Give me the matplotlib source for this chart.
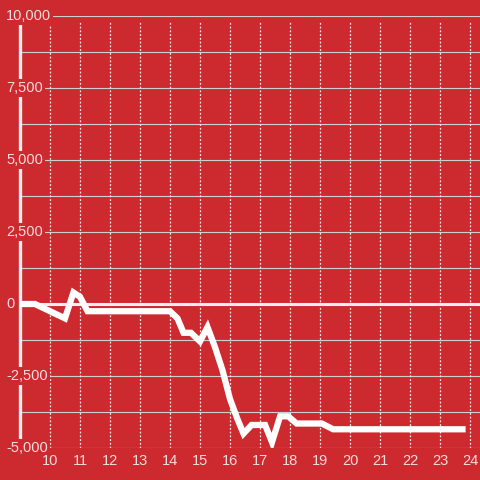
import matplotlib
matplotlib.use('Agg')
import matplotlib.pyplot as plt
import matplotlib.transforms as mtransforms

# hour of day vs value
hours = [9.0, 9.5, 10.5, 10.78, 11.0, 11.25, 14.0, 14.25, 14.45, 14.7, 15.0, 15.25,
         15.5, 15.75, 16.0, 16.25, 16.45, 16.72, 17.17, 17.4, 17.67, 17.94, 18.22,
         19.06, 19.44, 23.75]
values = [0, 0, -500, 400, 250, -250, -250, -500, -1000, -1000, -1300, -800,
          -1500, -2300, -3300, -4000, -4500, -4200, -4200, -4800, -3900, -3900, -4150,
          -4150, -4350, -4350]

y_ticks = [-5000, -2500, 0, 2500, 5000, 7500, 10000]
y_tick_labels = ['-5,000', '-2,500', '0', '2,500', '5,000', '7,500', '10,000']
y_grid = list(range(-5000, 10001, 1250))
x_ticks = list(range(10, 25))

RED = '#cd2a30'
TXT = '#f5dcdc'

fig = plt.figure(figsize=(4.8, 4.8), dpi=100, facecolor=RED)
ax = fig.add_axes([20 / 480, 32 / 480, 460 / 480, 432 / 480])
ax.set_xlim(9.0, 9.0 + 460 / 30)
ax.set_ylim(-5000, 10000)
ax.set_axis_off()

# grid
for v in y_grid:
    if v == -5000:
        ax.hlines(v, 10, ax.get_xlim()[1], color='#cfcfcf', lw=0.8, zorder=1)
    else:
        ax.axhline(v, color='#cfcfcf', lw=0.8, zorder=1)
ax.vlines(x_ticks, -5000, 9800, colors='#f4e6e6', lw=0.9,
          linestyles=(0, (1.5, 1.5)), zorder=1)

# y axis line and zero line
ax.plot([9.0, 9.0], [-5000, 10000], color='#eeeeee', lw=2.4, clip_on=False, zorder=2)
ax.axhline(0, color='#f0f0f0', lw=2.2, zorder=3)

# the series
ax.plot(hours, values, color='white', lw=4.5, solid_capstyle='projecting',
        solid_joinstyle='miter', zorder=4)

# tick labels
ytrans = mtransforms.blended_transform_factory(fig.transFigure, ax.transData)
for v, lab in zip(y_ticks, y_tick_labels):
    ax.text(6 / 480, v, lab, transform=ytrans, ha='left', va='center',
            fontsize=10.5, color=TXT, family='Liberation Sans', zorder=10,
            bbox=dict(boxstyle='square,pad=0.15', fc=RED, ec='none'))

xtrans = mtransforms.blended_transform_factory(ax.transData, fig.transFigure)
for x in x_ticks:
    ax.text(x, 1 - 461 / 480, str(x), transform=xtrans, ha='center', va='center',
            fontsize=10.5, color=TXT, family='Liberation Sans', zorder=10)

fig.savefig('out.png', dpi=100, facecolor=RED)
